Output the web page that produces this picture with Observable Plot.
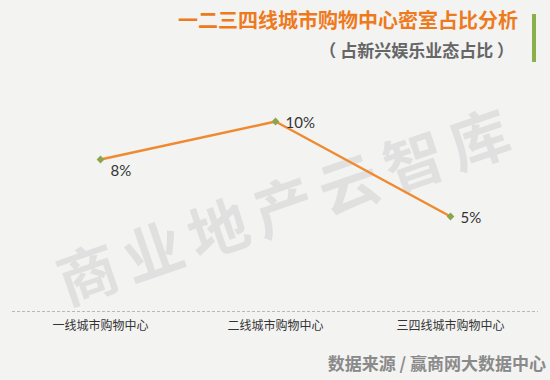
<!DOCTYPE html>
<html>
<head>
<meta charset="utf-8">
<script src="https://cdn.jsdelivr.net/npm/d3@7"></script>
<script src="https://cdn.jsdelivr.net/npm/@observablehq/plot@0.6"></script>
<style>
  html, body { margin: 0; padding: 0; }
  body { width: 550px; height: 380px; background: #f3f3f2; overflow: hidden; }
  #wrap { position: relative; width: 550px; height: 380px; }
  #title { position: absolute; right: 32px; top: 7px; font: 700 20px "Noto Sans CJK SC", sans-serif; color: #ee7a1e; white-space: nowrap; line-height: 26px; }
  #subtitle { position: absolute; right: 36px; top: 38px; font: 700 17px "Noto Sans CJK SC", sans-serif; color: #666; white-space: pre; line-height: 24px; }
  #bar { position: absolute; left: 532px; top: 14px; width: 4px; height: 48px; background: #8ab04a; }
  #caption { position: absolute; right: 4px; top: 351px; font: 700 17px "Noto Sans CJK SC", serif; color: #8a8a8a; white-space: nowrap; line-height: 24px; }
  #wm { position: absolute; left: 45px; top: 158px; font: 700 60px "Noto Sans CJK SC", serif; color: rgba(0,0,0,0.075); white-space: nowrap; transform: rotate(-19deg); transform-origin: center; letter-spacing: 9px; }
  #plot { position: absolute; left: 0; top: 0; }
  #plot svg { background: transparent; }
</style>
</head>
<body>
<div id="wrap">
  <div id="wm">商业地产云智库</div>
  <div id="plot"></div>
  <div id="title">一二三四线城市购物中心密室占比分析</div>
  <div id="subtitle">（ 占新兴娱乐业态占比 ）</div>
  <div id="bar"></div>
  <div id="caption">数据来源 / 赢商网大数据中心</div>
</div>
<script>
const categories = ["一线城市购物中心", "二线城市购物中心", "三四线城市购物中心"];
const shares = [8, 10, 5];
const labels = ["8%", "10%", "5%"];

const data = categories.map((c, i) => ({ cat: c, value: shares[i], label: labels[i] }));

const chart = Plot.plot({
  width: 550,
  height: 345,
  marginLeft: 12,
  marginRight: 12,
  marginTop: 121,
  marginBottom: 34,
  style: { background: "transparent", fontFamily: "Lato, sans-serif" },
  x: { type: "point", domain: categories, padding: 0.5, label: null },
  y: { domain: [0, 10], axis: null },
  marks: [
    Plot.ruleY([0], { stroke: "#b8b8b8", strokeDasharray: "3,2", strokeWidth: 1 }),
    Plot.axisX({ tickSize: 0, tickPadding: 10, fontSize: 12, fill: "#333", fontFamily: "'Noto Sans CJK SC', sans-serif" }),
    Plot.line(data, { x: "cat", y: "value", stroke: "#f08a30", strokeWidth: 2.5 }),
    Plot.dot(data, { x: "cat", y: "value", symbol: "diamond2", r: 3.5, fill: "#8ca54a", stroke: "none" }),
    Plot.text(data.filter(d => d.value === 8), { x: "cat", y: "value", text: "label", textAnchor: "start", dx: 10, dy: 12, fontSize: 15, fill: "#333" }),
    Plot.text(data.filter(d => d.value !== 8), { x: "cat", y: "value", text: "label", textAnchor: "start", dx: 10, dy: 2, fontSize: 15, fill: "#333" })
  ]
});
document.getElementById("plot").appendChild(chart);
</script>
</body>
</html>
